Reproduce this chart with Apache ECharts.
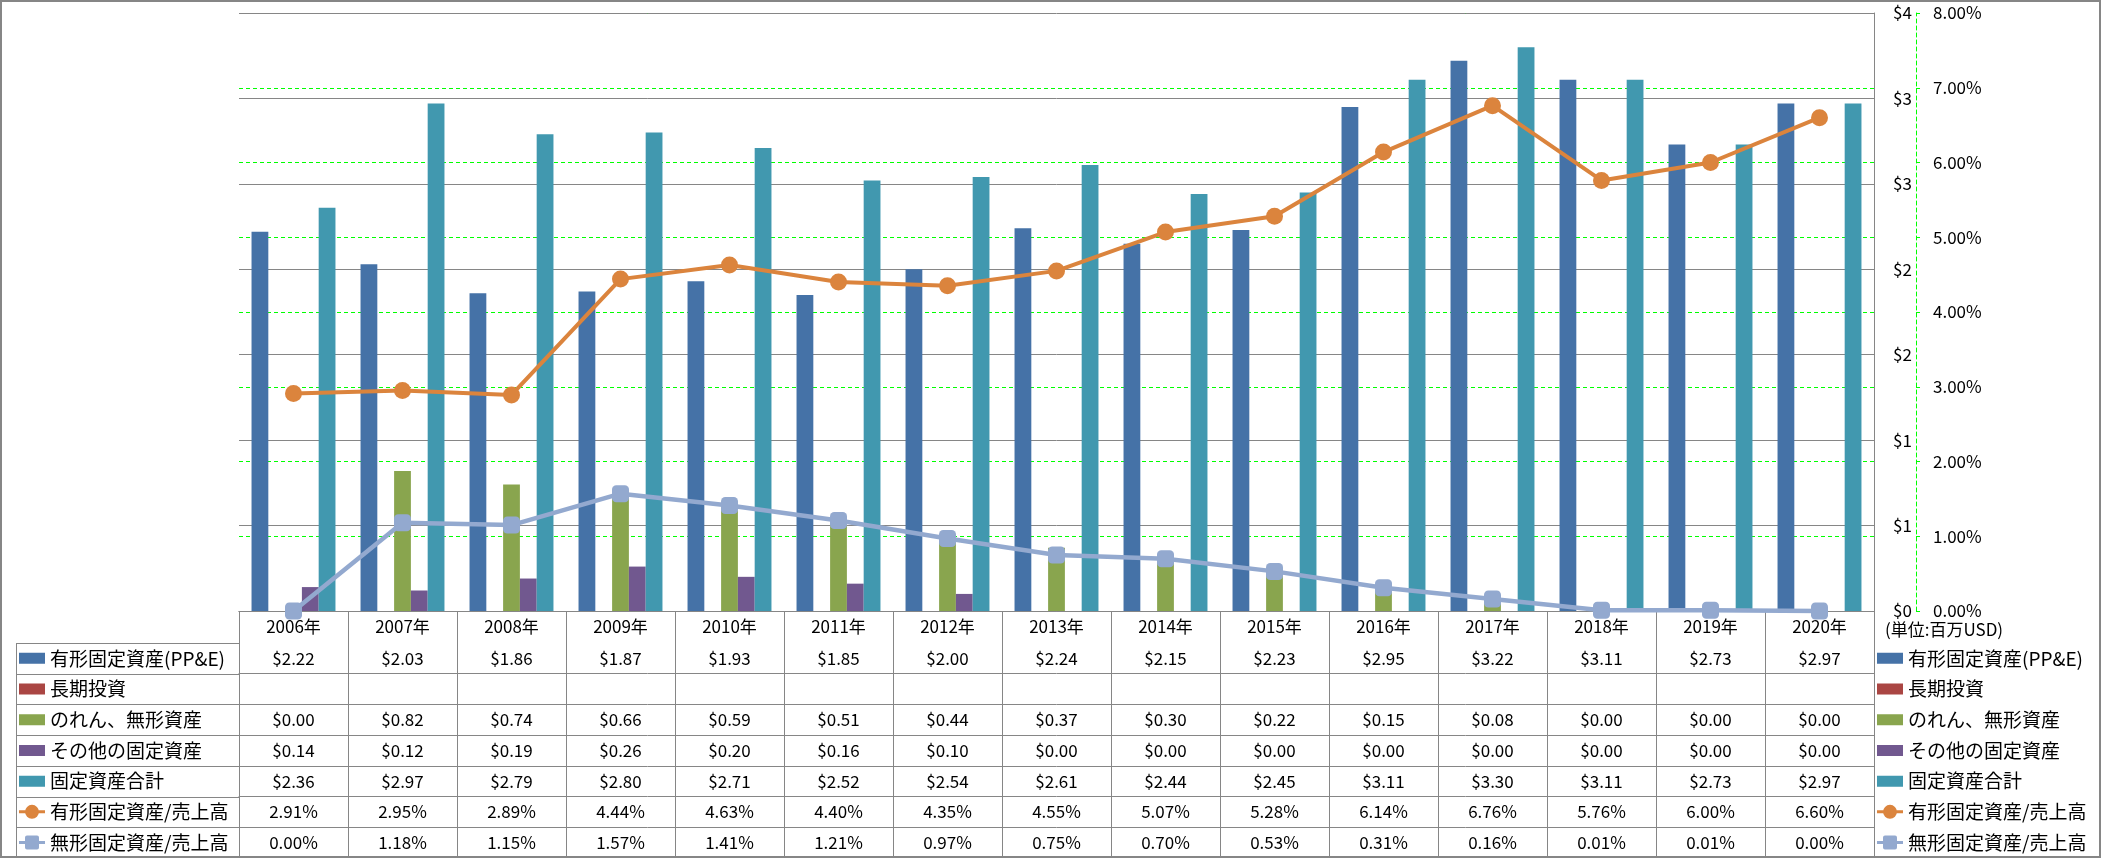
<!DOCTYPE html>
<html><head><meta charset="utf-8">
<script src="https://cdn.jsdelivr.net/npm/echarts@6/dist/echarts.min.js"></script>
<style>html,body{margin:0;padding:0;background:#fff}#c{width:2101px;height:858px}</style>
</head><body><div id="c"></div>
<script>
// ---- data ----
const years = ['2006年','2007年','2008年','2009年','2010年','2011年','2012年','2013年','2014年','2015年','2016年','2017年','2018年','2019年','2020年'];
const ppe = [2.22, 2.03, 1.86, 1.87, 1.93, 1.85, 2.00, 2.24, 2.15, 2.23, 2.95, 3.22, 3.11, 2.73, 2.97];
const longInv = [null, null, null, null, null, null, null, null, null, null, null, null, null, null, null];
const goodwill = [0.00, 0.82, 0.74, 0.66, 0.59, 0.51, 0.44, 0.37, 0.30, 0.22, 0.15, 0.08, 0.00, 0.00, 0.00];
const otherFixed = [0.14, 0.12, 0.19, 0.26, 0.20, 0.16, 0.10, 0.00, 0.00, 0.00, 0.00, 0.00, 0.00, 0.00, 0.00];
const totalFixed = [2.36, 2.97, 2.79, 2.80, 2.71, 2.52, 2.54, 2.61, 2.44, 2.45, 3.11, 3.30, 3.11, 2.73, 2.97];
const ppeRatio = [2.91, 2.95, 2.89, 4.44, 4.63, 4.40, 4.35, 4.55, 5.07, 5.28, 6.14, 6.76, 5.76, 6.00, 6.60];
const intangRatio = [0.00, 1.18, 1.15, 1.57, 1.41, 1.21, 0.97, 0.75, 0.70, 0.53, 0.31, 0.16, 0.01, 0.01, 0.00];
const dollarLabels = ['$0','$1','$1','$2','$2','$3','$3','$4'];
const pctLabels = ['0.00%','1.00%','2.00%','3.00%','4.00%','5.00%','6.00%','7.00%','8.00%'];
const seriesNames = ['有形固定資産(PP&E)','長期投資','のれん、無形資産','その他の固定資産','固定資産合計','有形固定資産/売上高','無形固定資産/売上高'];
const unitText = '(単位:百万USD)';

// ---- styling / layout ----
const F = '"Noto Sans CJK JP","Noto Sans",sans-serif';
const colors = ['#4572A7','#AA4643','#89A54E','#71588F','#4198AF','#DB843D','#93A9CF'];
const GRAY = '#868686', GREEN = '#00FF00';
const gridTop = 13, gridBottomY = 611, gridLeft = 239, gridRightX = 1874;
const headerH = 32, rowH = 30.7, tableLeft = 16;

const fmtD = v => v == null ? '' : '$' + v.toFixed(2);
const fmtP = v => v == null ? '' : v.toFixed(2) + '%';
const rowLabels = [ppe.map(fmtD), longInv.map(fmtD), goodwill.map(fmtD), otherFixed.map(fmtD), totalFixed.map(fmtD), ppeRatio.map(fmtP), intangRatio.map(fmtP)];

const chart = echarts.init(document.getElementById('c'));
const W = 2101, H = 858;

const xAxes = [{
  type: 'category', data: years, position: 'bottom', boundaryGap: true,
  axisLine: {lineStyle: {color: GRAY, width: 1}},
  axisTick: {show: true, length: headerH + rowLabels.length * rowH, lineStyle: {color: GRAY}},
  axisLabel: {interval: 0, margin: headerH / 2, verticalAlign: 'middle', fontSize: 17, color: '#000', fontFamily: F},
  splitLine: {show: false}
}];
rowLabels.forEach((labels, i) => {
  xAxes.push({
    type: 'category', data: years, position: 'bottom', boundaryGap: true,
    offset: headerH + i * rowH,
    axisLine: {lineStyle: {color: GRAY, width: 1}},
    axisTick: {show: false},
    axisLabel: {interval: 0, margin: rowH / 2, verticalAlign: 'middle', fontSize: 17, color: '#000', fontFamily: F,
      formatter: (v, idx) => labels[idx]},
    splitLine: {show: false}
  });
});
xAxes.push({
  type: 'category', data: years, position: 'bottom', boundaryGap: true,
  offset: headerH + rowLabels.length * rowH - 1,
  axisLine: {lineStyle: {color: GRAY, width: 1}}, axisTick: {show: false}, axisLabel: {show: false}, splitLine: {show: false}
});

const graphics = [{
  type: 'rect', silent: true, z: 100,
  shape: {x: 1, y: 1, width: W - 2, height: H - 2},
  style: {fill: 'none', stroke: GRAY, lineWidth: 2}
}];
for (let i = 0; i <= rowLabels.length; i++) {
  const y = Math.round(gridBottomY + headerH + i * rowH) + 0.5;
  graphics.push({type: 'line', silent: true, shape: {x1: tableLeft, y1: y, x2: gridLeft, y2: y}, style: {stroke: GRAY, lineWidth: 1}});
}
graphics.push({type: 'line', silent: true,
  shape: {x1: tableLeft + 0.5, y1: gridBottomY + headerH, x2: tableLeft + 0.5, y2: gridBottomY + headerH + rowLabels.length * rowH},
  style: {stroke: GRAY, lineWidth: 1}});

// legend key icons (26 x 15 box; tiny corner specks fix the box height)
const SPECK = 'M0,0h0.01v0.01h-0.01z M0,14.99h0.01v0.01h-0.01z ';
const barIcon = 'path://' + SPECK + 'M0,2h26v11h-26z';
const circleIcon = 'path://' + SPECK + 'M0,6h26v3h-26z M6,7.5a7,7 0 1,1 14,0a7,7 0 1,1 -14,0z';
const squareIcon = 'path://' + SPECK + 'M0,6h26v3h-26z M8,0.5h10q2,0 2,2v10q0,2 -2,2h-10q-2,0 -2,-2v-10q0,-2 2,-2z';
const legendData = seriesNames.map((n, i) => ({
  name: n, icon: i < 5 ? barIcon : (i === 5 ? circleIcon : squareIcon), itemStyle: {borderWidth: 0}
}));
const legendBase = {
  orient: 'vertical', top: gridBottomY + headerH, itemGap: 0, padding: 0,
  itemWidth: 26, itemHeight: 15, selectedMode: false, symbolKeepAspect: true,
  textStyle: {fontSize: 19, lineHeight: rowH, color: '#000', fontFamily: F},
  data: legendData
};

const barCommon = {type: 'bar', xAxisIndex: 0, yAxisIndex: 0, barGap: '0%', barCategoryGap: '23%'};

chart.setOption({
  animation: false,
  backgroundColor: '#fff',
  color: colors,
  textStyle: {fontFamily: F},
  title: {text: unitText, left: 1885, top: 621, padding: 0,
    textStyle: {fontSize: 17, fontWeight: 'normal', color: '#000', fontFamily: F}},
  grid: {left: gridLeft, right: W - gridRightX, top: gridTop, bottom: H - gridBottomY, containLabel: false},
  legend: [Object.assign({left: 19}, legendBase), Object.assign({left: 1877}, legendBase)],
  xAxis: xAxes,
  yAxis: [{
    type: 'value', min: 0, max: 3.5, interval: 0.5, position: 'right', z: 1,
    axisLine: {show: true, lineStyle: {color: GRAY, width: 1}},
    axisTick: {show: false},
    axisLabel: {margin: 19, fontSize: 17, color: '#000', fontFamily: F, formatter: (v, i) => dollarLabels[i]},
    splitLine: {show: true, lineStyle: {color: GRAY, width: 1}}
  }, {
    type: 'value', min: 0, max: 8, interval: 1, position: 'right', offset: 42, z: 0,
    axisLine: {show: true, lineStyle: {color: GREEN, width: 1, type: [4, 3]}},
    axisTick: {show: true, length: 4, lineStyle: {color: GREEN}},
    axisLabel: {margin: 17, fontSize: 17, color: '#000', fontFamily: F, formatter: (v, i) => pctLabels[i]},
    splitLine: {show: true, lineStyle: {color: GREEN, width: 1, type: [4, 3]}}
  }],
  graphic: graphics,
  series: [
    Object.assign({name: seriesNames[0], data: ppe}, barCommon),
    Object.assign({name: seriesNames[1], data: longInv}, barCommon),
    Object.assign({name: seriesNames[2], data: goodwill}, barCommon),
    Object.assign({name: seriesNames[3], data: otherFixed}, barCommon),
    Object.assign({name: seriesNames[4], data: totalFixed}, barCommon),
    {name: seriesNames[5], type: 'line', xAxisIndex: 0, yAxisIndex: 1, data: ppeRatio, clip: false, z: 5,
      symbol: 'circle', symbolSize: 17, lineStyle: {width: 4, color: colors[5]}, itemStyle: {color: colors[5]}},
    {name: seriesNames[6], type: 'line', xAxisIndex: 0, yAxisIndex: 1, data: intangRatio, clip: false, z: 4,
      symbol: 'roundRect', symbolSize: 17, lineStyle: {width: 4.5, color: colors[6]}, itemStyle: {color: colors[6]}}
  ]
});
</script>
</body></html>
